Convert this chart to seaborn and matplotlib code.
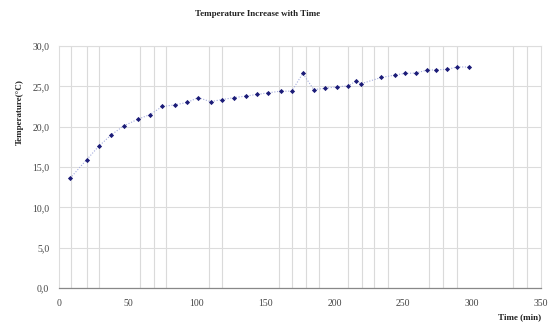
import matplotlib
matplotlib.use('Agg')
import matplotlib.pyplot as plt
import matplotlib.ticker as mticker
import seaborn as sns
import pandas as pd

# Data
times = [8, 20, 29, 38, 47, 57, 66, 75, 84, 93, 101, 110, 118, 127, 136, 144, 152,
         161, 169, 177, 185, 193, 202, 210, 216, 219, 234, 244, 251, 259, 267, 274,
         282, 289, 298]
temps = [13.6, 15.9, 17.6, 19.0, 20.1, 20.9, 21.5, 22.5, 22.7, 23.0, 23.6, 23.1,
         23.35, 23.6, 23.8, 24.0, 24.2, 24.4, 24.4, 26.6, 24.6, 24.75, 24.95, 25.05,
         25.7, 25.3, 26.1, 26.4, 26.6, 26.65, 27.0, 27.05, 27.1, 27.4, 27.4]
x_ticks = [0, 50, 100, 150, 200, 250, 300, 350]
y_ticks = [0, 5, 10, 15, 20, 25, 30]
# odd vertical grid lines seen in the picture
v_grid = [9, 20, 29, 59, 69, 78, 109, 118, 160, 169, 179, 189, 210, 220, 229,
          239, 269, 279, 289, 330, 340, 350]

df = pd.DataFrame({'time': times, 'temp': temps})

sns.set_style('white')
plt.rcParams['font.family'] = ['Liberation Serif', 'DejaVu Serif']

fig = plt.figure(figsize=(5.52, 3.26), dpi=100)
ax = fig.add_axes([0.107, 0.1166, 0.873, 0.7423])

# dotted connecting line + dark markers
sns.lineplot(data=df, x='time', y='temp', ax=ax, color='#a3abdc',
             linestyle=(0, (1, 1.5)), linewidth=0.8)
sns.scatterplot(data=df, x='time', y='temp', ax=ax, color='#1c1c78',
                marker='D', s=7, linewidth=0, zorder=3)

ax.set_xlim(0, 350)
ax.set_ylim(0, 30)
ax.set_xticks(x_ticks)
ax.set_yticks(y_ticks)
ax.set_xticks(v_grid, minor=True)
ax.yaxis.set_major_formatter(mticker.FuncFormatter(lambda v, p: f'{v:.1f}'.replace('.', ',')))

ax.grid(which='major', axis='y', color='#dcdcdc', linewidth=0.8)
ax.grid(which='minor', axis='x', color='#dadada', linewidth=0.8)
ax.set_axisbelow(True)

ax.tick_params(axis='x', which='both', length=0, labelsize=7, colors='#444444', pad=8)
ax.tick_params(axis='y', length=5, width=0.8, color='#bbbbbb', labelsize=7,
               labelcolor='#444444', pad=2)

for side in ['top', 'right', 'left']:
    ax.spines[side].set_color('#dddddd')
    ax.spines[side].set_linewidth(0.8)
ax.spines['bottom'].set_color('#888888')
ax.spines['bottom'].set_linewidth(0.9)

ax.set_xlabel('')
ax.set_ylabel('')
fig.text(0.467, 0.957, 'Temperature Increase with Time', ha='center', va='center',
         fontsize=6.5, fontweight='bold', color='#222222')
fig.text(0.035, 0.656, 'Temperature(\u00b0C)', rotation=90, ha='center', va='center',
         fontsize=6.5, fontweight='bold', color='#222222')
fig.text(0.98, 0.027, 'Time (min)', ha='right', va='center',
         fontsize=6.5, fontweight='bold', color='#222222')

fig.savefig('out.png', dpi=100)
